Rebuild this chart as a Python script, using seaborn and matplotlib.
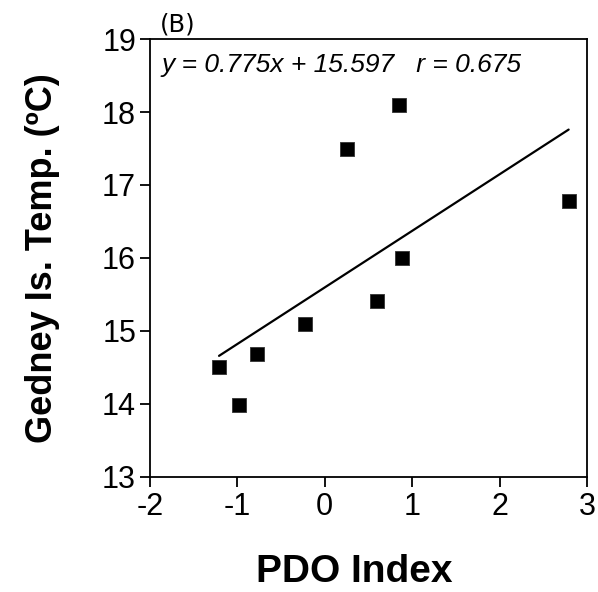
import matplotlib
matplotlib.use("Agg")
import matplotlib.pyplot as plt
import seaborn as sns
import pandas as pd

# ── Data ─────────────────────────────────────────────────
pdo_index = [-1.21, -0.98, -0.78, -0.23, 0.25, 0.60, 0.85, 0.88, 2.79]
gedney_temp = [14.50, 13.99, 14.68, 15.10, 17.50, 15.41, 18.10, 16.00, 16.78]
slope = 0.775
intercept = 15.597
r_value = 0.675

x_ticks = [-2, -1, 0, 1, 2, 3]
y_ticks = [13, 14, 15, 16, 17, 18, 19]

df = pd.DataFrame({"pdo": pdo_index, "temp": gedney_temp})
fit = pd.DataFrame({"pdo": [min(pdo_index), max(pdo_index)]})
fit["temp"] = slope * fit["pdo"] + intercept

sns.set_style("ticks")
plt.rcParams["font.family"] = ["Liberation Sans", "DejaVu Sans"]
plt.rcParams["text.color"] = "black"
plt.rcParams["axes.labelcolor"] = "black"

fig = plt.figure(figsize=(5.98, 5.92), dpi=100)
ax = fig.add_axes([0.2508, 0.1943, 0.7308, 0.7398])

sns.lineplot(data=fit, x="pdo", y="temp", color="black", linewidth=1.6, ax=ax)
sns.scatterplot(data=df, x="pdo", y="temp", marker="s", s=110, color="black",
                edgecolor="#333333", linewidth=0.6, ax=ax, zorder=3)

ax.set_xlim(-2, 3)
ax.set_ylim(13, 19)
ax.set_xticks(x_ticks)
ax.set_yticks(y_ticks)
ax.set_xticklabels([str(t) for t in x_ticks])
ax.tick_params(axis="both", labelsize=22, width=1.3, length=7, direction="out",
               color="black", labelcolor="black")
ax.tick_params(axis="x", pad=4)
ax.tick_params(axis="y", pad=3)
for side in ["top", "right", "left", "bottom"]:
    ax.spines[side].set_visible(True)
    ax.spines[side].set_linewidth(1.3)
    ax.spines[side].set_color("black")

ax.set_xlabel("PDO Index", fontsize=28, fontweight="bold")
ax.xaxis.set_label_coords(0.467, -0.175)
ax.set_ylabel("Gedney Is. Temp. (ºC)", fontsize=26, fontweight="bold", labelpad=30)

ax.text(0.027, 0.968, f"y = {slope}x + {intercept}   r = {r_value}",
        transform=ax.transAxes, fontsize=19, fontstyle="italic", va="top", ha="left")
ax.text(0.022, 1.006, "(B)", transform=ax.transAxes, fontsize=17.5, va="bottom",
        ha="left", family=["DejaVu Sans"])

fig.savefig("out.png", dpi=100)
